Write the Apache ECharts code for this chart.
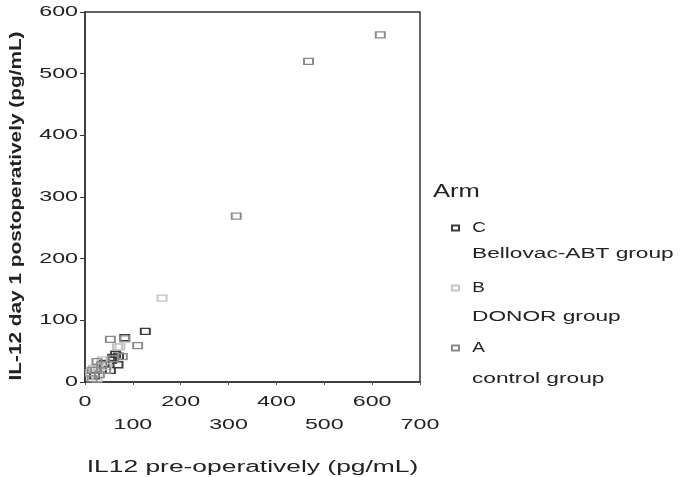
<!DOCTYPE html>
<html><head><meta charset="utf-8">
<script src="https://cdn.jsdelivr.net/npm/echarts@6/dist/echarts.min.js"></script>
<style>
html,body{margin:0;padding:0;background:#fff;}
#c{width:683px;height:477px;}
</style></head>
<body><div id="c"></div>
<script>
const xTicks = [0,100,200,300,400,500,600,700];
const yTicks = [0,100,200,300,400,500,600];
const armNames = ['C','B','A'];
const armLabels = ['Bellovac-ABT group','DONOR group','control group'];
const armC = [[126,82],[83,72],[64,45],[69,28],[53,19],[55,35],[70,42],[40,30],[20,10],[58,40]];
const armB = [[161,136],[73,57],[68,57],[36,36],[25,5],[28,25],[45,25],[12,15],[18,22]];
const armA = [[617,563],[467,520],[316,269],[53,69],[83,70],[110,59],[78,41],[25,33],[22,19],[15,19],[43,19],[30,12],[60,38],[15,5],[35,28]];
const colors = ['#3c3c3c','#c4c4c4','#8a8a8a'];
const xTitle = 'IL12 pre-operatively (pg/mL)';
const yTitle = 'IL-12 day 1 postoperatively (pg/mL)';

const chart = echarts.init(document.getElementById('c'), null, {renderer:'canvas'});
const font = 'Liberation Sans, Arial, sans-serif';
const axisLine = {show:true, lineStyle:{color:'#333', width:1.5}};
const mk = (name, data, color) => ({
  name, type:'scatter', data, symbol:'rect', symbolSize:[9,6],
  itemStyle:{color:'rgba(255,255,255,0)', borderColor:color, borderWidth:1.6, opacity:1},
  emphasis:{disabled:true}
});
chart.setOption({
  animation:false,
  backgroundColor:'#fff',
  grid:{left:85, right:263, top:12, bottom:95, show:true, borderColor:'#333', borderWidth:1.5,
    outerBoundsMode:'none', containLabel:false},
  xAxis:{type:'value', min:xTicks[0], max:xTicks[xTicks.length-1], interval:100,
    axisLine, splitLine:{show:false},
    axisTick:{show:true, length:3, lineStyle:{color:'#555'}},
    axisLabel:{color:'#222', fontFamily:font, fontSize:15, margin:8, lineHeight:23,
      formatter:v => ((v/100)%2 ? '\n'+v : ''+v)},
    name:xTitle, nameLocation:'middle', nameGap:78,
    nameTextStyle:{color:'#222', fontFamily:font, fontSize:16}
  },
  yAxis:{type:'value', min:yTicks[0], max:yTicks[yTicks.length-1], interval:100,
    axisLine, splitLine:{show:false},
    axisTick:{show:true, length:5, lineStyle:{color:'#333'}},
    axisLabel:{color:'#222', fontFamily:font, fontSize:15, margin:7},
    name:yTitle, nameLocation:'middle', nameGap:60,
    nameTextStyle:{color:'#222', fontFamily:font, fontSize:16, fontWeight:'bold'}
  },
  legend:{orient:'vertical', left:446, top:214, itemWidth:7, itemHeight:5, itemGap:42,
    data:armNames, selectedMode:false,
    textStyle:{color:'#222', fontFamily:font, fontSize:14, lineHeight:18, padding:[0,0,0,3]}},
  graphic:[
    {type:'text', left:433, top:183, style:{text:'Arm', fill:'#222', font:'18px '+font}},
    {type:'text', left:472, top:247, style:{text:armLabels[0], fill:'#222', font:'14px '+font}},
    {type:'text', left:472, top:310, style:{text:armLabels[1], fill:'#222', font:'14px '+font}},
    {type:'text', left:472, top:372, style:{text:armLabels[2], fill:'#222', font:'14px '+font}}
  ],
  series:[mk(armNames[0], armC, colors[0]), mk(armNames[1], armB, colors[1]), mk(armNames[2], armA, colors[2])]
});

// widen glyphs horizontally to match the reference's wide lettering
const stretchFor = t => {
  if (t === xTitle) return 1.65;
  if (t === yTitle) return 1.3;
  if (t === 'Arm') return 1.42;
  if (armLabels.includes(t)) return 1.62;
  if (armNames.includes(t)) return 1.35;
  return 1.55;
};
const zr = chart.getZr();
const walk = el => {
  if (el.type === 'text' && el.style && el.style.text != null && el.style.text !== '') {
    const t = String(el.style.text).trim();
    el.scaleX = stretchFor(t);
    if (t === yTitle) el.y += 9;
    el.markRedraw();
  }
  if (el.childrenRef) el.childrenRef().forEach(walk);
};
zr.storage.getRoots().forEach(walk);
zr.refreshImmediately();
</script></body></html>
